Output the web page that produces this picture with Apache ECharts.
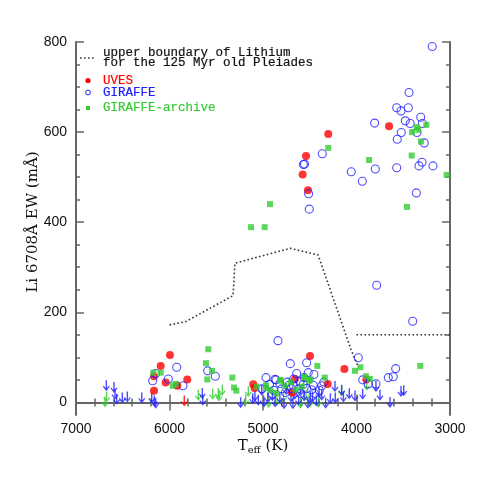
<!DOCTYPE html>
<html>
<head>
<meta charset="utf-8">
<script src="https://cdn.jsdelivr.net/npm/echarts@6/dist/echarts.min.js"></script>
<style>
  html, body { margin: 0; padding: 0; background: #fff; }
  #chart { width: 491px; height: 491px; }
</style>
</head>
<body>
<div id="chart"></div>
<script>
// upper boundary of Li for the Pleiades (dotted line)
const bndT = [6000, 5830, 5320, 5300, 4710, 4410, 4060, 3990];
const bndEW = [172, 179, 237, 309, 342, 327, 118, 83];
const bndFlatT = [4000, 3000];
const bndFlatEW = [150, 150];

// UVES detections
const uvesT = [5995, 6094, 6166, 6041, 5810, 6166, 5917, 4302, 4540, 4576, 4519, 3652, 5104, 5090, 4497, 4130, 3895, 4658, 4308, 4690];
const uvesEW = [105, 81, 58, 44, 51, 26, 37, 596, 547, 506, 471, 613, 40, 32, 103, 74, 51, 52, 41, 22];
// UVES upper limits
const uvesLimT = [5842];
const uvesLimEW = [3];

// GIRAFFE detections
const giraffeT = [3190, 3438, 3570, 3524, 3446, 3313, 3478, 3425, 3296, 3806, 3521, 3353, 3564, 3275, 4366, 4568, 4556, 4512, 4505,
  3299, 3332, 3182, 3570, 3799, 4056, 3938, 3360, 3784, 3399, 4840,
  6148, 6180, 6013, 5923, 5856, 5592, 5510, 4708, 4533, 3981, 3934, 3581, 3607, 3660, 3792, 3874, 4872, 4886, 4722, 4697,
  4672, 4640, 4516, 4455, 4604, 4462, 4372, 4676, 4533, 4398, 4968, 4861, 4800, 4760, 4600, 4450, 4570, 4930, 4820, 4350,
  4480, 4620, 4900, 4740, 5010, 4560];
const giraffeEW = [790, 688, 654, 647, 654, 633, 625, 619, 619, 620, 599, 599, 584, 576, 552, 528, 529, 463, 429,
  533, 525, 525, 521, 518, 512, 491, 465, 260, 180, 137,
  64, 48, 52, 78, 37, 70, 58, 86, 88, 99, 50, 75, 57, 55, 41, 41, 51, 27, 38, 31,
  52, 64, 66, 62, 46, 38, 37, 38, 31, 27, 55, 50, 30, 22, 20, 20, 40, 40, 42, 45,
  28, 30, 18, 45, 30, 55];
// GIRAFFE upper limits
const giraffeLimT = [6676, 6594, 6583, 6565, 6505, 6451, 6297, 6190, 6163, 6148, 5649, 5644, 5239, 5086, 5014, 4989, 4950, 4870, 4775,
  4230, 4227, 4158, 4140, 4077, 4016, 3934, 4372, 4280, 4497, 3792, 3749, 3642, 3524, 3495, 4620, 4700, 4560, 4430, 4900,
  5050, 4820, 4680, 4520, 4400, 4330, 5110, 4600, 4470, 4660, 4750];
const giraffeLimEW = [37, 33, 18, 7, 10, 12, 10, 10, 3, -2, 20, 5, -1, 14, 27, 1, 10, 1, -3,
  35, 10, 27, 12, 19, 14, 18, 16, 8, 8, 35, 16, 0, 24, 26, 5, 12, 14, 3, 15,
  5, 10, -3, -2, 22, -2, 8, 25, 12, 18, 28];

// GIRAFFE-archive detections
const archT = [3356, 3253, 3339, 3406, 3310, 4302, 3410, 3866, 3036, 3460, 4925, 5128, 4982, 5585, 6173, 6094, 5934, 5966, 5610, 5545,
  5596, 5328, 5310, 5285, 5067, 4968, 4922, 4818, 4772, 4419, 4016, 3959, 3898, 3856, 4554, 4340, 4586, 4490, 3318, 4558,
  4811, 4968, 4861, 4505, 4700, 4650];
const archEW = [611, 616, 605, 600, 579, 565, 548, 538, 505, 434, 440, 389, 389, 118, 66, 66, 41, 37, 87, 70,
  51, 55, 33, 26, 35, 32, 27, 48, 37, 81, 70, 78, 58, 52, 55, 55, 35, 51, 81, 57,
  50, 38, 21, 48, 45, 28];
// GIRAFFE-archive upper limits
const archLimT = [6672, 6690, 5692, 5538, 5478, 5435, 5470, 5157, 5185, 4540, 4409, 4497, 4850, 4780, 4600, 4940, 4160, 3890];
const archLimEW = [12, 1, 16, 18, 20, 27, 14, 24, 5, 16, 1, 1, 5, 12, -2, 0, 25, 38];

const yMajor = [0, 200, 400, 600, 800];
const yMinor = [50, 100, 150, 250, 300, 350, 450, 500, 550, 650, 700, 750];

const zip = (a, b) => a.map((v, i) => [v, b[i]]);

// down arrow for upper limits
const arrow = 'path://M4,0 L6,0 L6,11.5 L8.6,8 L10,9.2 L5,16 L0,9.2 L1.4,8 L4,11.5 Z';

const axisColor = '#666';
const RED = '#ff0000', BLUE = '#2020ff', GREEN = '#33cc33';

function xAx(pos) {
  return {
    type: 'value', min: 3000, max: 7000, interval: 1000, inverse: true, position: pos,
    axisLine: { lineStyle: { color: axisColor, width: 2 } },
    axisTick: { inside: true, length: 8, lineStyle: { color: axisColor, width: 1.5 } },
    minorTick: { show: true, splitNumber: 5, length: 4, lineStyle: { color: axisColor, width: 1.5 } },
    axisLabel: {
      show: pos === 'bottom', color: '#111', fontSize: 14, margin: 7, fontFamily: 'Liberation Sans',
      formatter: v => String(v)
    },
    splitLine: { show: false }
  };
}
function yAx(pos, vals, len, line, label) {
  return {
    type: 'value', min: -28, max: 800, position: pos,
    axisLine: { show: line, lineStyle: { color: axisColor, width: 2 } },
    axisTick: { inside: true, length: len, customValues: vals, lineStyle: { color: axisColor, width: 1.5 } },
    axisLabel: {
      show: label, customValues: vals, color: '#111', fontSize: 14, margin: 9, fontFamily: 'Liberation Sans',
      formatter: v => String(v)
    },
    splitLine: { show: false }
  };
}

// legend text is a bit heavier than plain Liberation Mono
const legendText = (x, y, text, color) => ({
  type: 'text', x: x, y: y,
  style: { text: text, font: '12.5px "Liberation Mono"', fill: color, stroke: color, lineWidth: 0.2, textVerticalAlign: 'middle' }
});

const chart = echarts.init(document.getElementById('chart'));
const option = {
  animation: false,
  backgroundColor: '#fff',
  grid: { left: 76, right: 41, top: 42, bottom: 76, outerBoundsMode: 'none' },
  xAxis: [xAx('bottom'), xAx('top')],
  yAxis: [
    yAx('left', yMajor, 8, true, true),
    yAx('right', yMajor, 8, true, false),
    yAx('left', yMinor, 4, false, false),
    yAx('right', yMinor, 4, false, false)
  ],
  series: [
    {
      name: 'boundary', type: 'line', data: zip(bndT, bndEW), symbol: 'none',
      lineStyle: { color: '#333', width: 1.6, type: [1.6, 2.4] }
    },
    {
      name: 'boundary2', type: 'line', data: zip(bndFlatT, bndFlatEW), symbol: 'none',
      lineStyle: { color: '#333', width: 1.6, type: [1.6, 2.4] }
    },
    {
      name: 'GIRAFFE-archive limits', type: 'scatter', data: zip(archLimT, archLimEW),
      symbol: arrow, symbolSize: [7, 11], itemStyle: { color: GREEN }
    },
    {
      name: 'GIRAFFE limits', type: 'scatter', data: zip(giraffeLimT, giraffeLimEW),
      symbol: arrow, symbolSize: [7, 11], itemStyle: { color: BLUE }
    },
    {
      name: 'UVES limits', type: 'scatter', data: zip(uvesLimT, uvesLimEW),
      symbol: arrow, symbolSize: [7, 11], itemStyle: { color: RED }
    },
    {
      name: 'UVES', type: 'scatter', data: zip(uvesT, uvesEW),
      symbol: 'circle', symbolSize: 8, itemStyle: { color: RED }
    },
    {
      name: 'GIRAFFE', type: 'scatter', data: zip(giraffeT, giraffeEW),
      symbol: 'circle', symbolSize: 8,
      itemStyle: { color: 'rgba(0,0,0,0)', borderColor: BLUE, borderWidth: 1.1 }
    },
    {
      name: 'GIRAFFE-archive', type: 'scatter', data: zip(archT, archEW),
      symbol: 'rect', symbolSize: 6, itemStyle: { color: GREEN }
    }
  ],
  graphic: [
    // legend
    { type: 'line', shape: { x1: 80, y1: 58, x2: 94, y2: 58 }, style: { stroke: '#333', lineWidth: 1.6, lineDash: [1.6, 2.4] } },
    legendText(103, 52.5, 'upper boundary of Lithium', '#111'),
    legendText(103, 62.5, 'for the 125 Myr old Pleiades', '#111'),
    { type: 'circle', shape: { cx: 88, cy: 80.5, r: 2.6 }, style: { fill: RED } },
    legendText(103, 80.5, 'UVES', RED),
    { type: 'circle', shape: { cx: 88, cy: 92.5, r: 2.4 }, style: { fill: 'none', stroke: BLUE, lineWidth: 1 } },
    legendText(103, 92.5, 'GIRAFFE', BLUE),
    { type: 'rect', shape: { x: 86, y: 106, width: 4, height: 4 }, style: { fill: GREEN } },
    legendText(103, 108, 'GIRAFFE-archive', GREEN),
    // axis titles
    {
      type: 'text', x: 33, y: 222, rotation: Math.PI / 2,
      style: { text: 'Li 6708Å EW (mÅ)', font: '15px "DejaVu Serif"', fill: '#111', textAlign: 'center', textVerticalAlign: 'middle' }
    },
    {
      type: 'text', x: 263, y: 447,
      style: {
        text: '{a|T}{b|eff}{a| (K)}', textAlign: 'center', textVerticalAlign: 'middle', fill: '#111',
        rich: {
          a: { fontFamily: 'DejaVu Serif', fontSize: 15, lineHeight: 16, verticalAlign: 'top' },
          b: { fontFamily: 'DejaVu Serif', fontSize: 10, lineHeight: 10, verticalAlign: 'bottom', padding: [7, 0, 0, 0] }
        }
      }
    }
  ]
};
chart.setOption(option);
</script>
</body>
</html>
